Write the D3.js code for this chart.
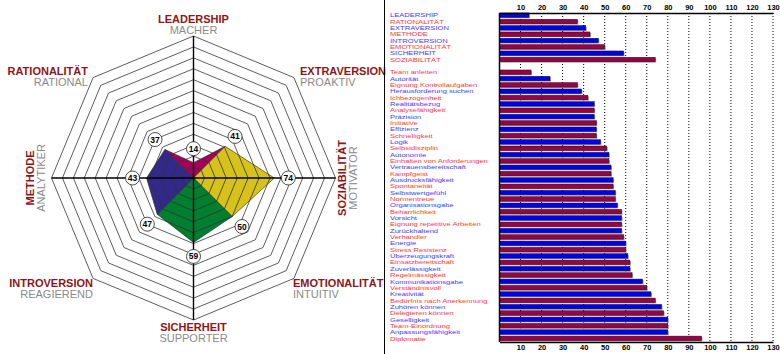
<!DOCTYPE html>
<html>
<head>
<meta charset="utf-8">
<script src="https://cdn.jsdelivr.net/npm/d3@7"></script>
<style>
  body { margin: 0; background: #fff; }
  svg { display: block; font-family: Arial, "Liberation Sans", sans-serif; }
</style>
</head>
<body>
<div id="chart"></div>
<script>
// Radar: Achsen im Uhrzeigersinn ab oben
const axisNames = ['LEADERSHIP', 'EXTRAVERSION', 'SOZIABILITÄT', 'EMOTIONALITÄT', 'SICHERHEIT', 'INTROVERSION', 'METHODE', 'RATIONALITÄT'];
const axisSubs = ['MACHER', 'PROAKTIV', 'MOTIVATOR', 'INTUITIV', 'SUPPORTER', 'REAGIEREND', 'ANALYTIKER', 'RATIONAL'];
const axisValues = [14, 41, 74, 50, 59, 47, 43, 37];
const sectorColors = ['#a6005a', '#d6c21b', '#007f30', '#32298a'];

// Balken: Hauptdimensionen
const mainLabels = ['LEADERSHIP', 'RATIONALITÄT', 'EXTRAVERSION', 'METHODE', 'INTROVERSION', 'EMOTIONALITÄT', 'SICHERHEIT', 'SOZIABILITÄT'];
const mainValues = [14, 37, 41, 43, 47, 50, 59, 74];

// Balken: Eigenschaften
const traitLabels = ['Team anleiten', 'Autorität', 'Eignung Kontrollaufgaben', 'Herausforderung suchen', 'Ichbezogenheit',
  'Realitätsbezug', 'Analysefähigkeit', 'Präzision', 'Initiative', 'Effizienz', 'Schnelligkeit', 'Logik',
  'Selbstdisziplin', 'Autonomie', 'Einhalten von Anforderungen', 'Vertrauensbereitschaft', 'Kampfgeist',
  'Ausdrucksfähigkeit', 'Spontaneität', 'Selbstwertgefühl', 'Normentreue', 'Organisationsgabe', 'Beharrlichkeit',
  'Vorsicht', 'Eignung repetitive Arbeiten', 'Zurückhaltend', 'Verhandler', 'Energie', 'Stress Resistenz',
  'Überzeugungskraft', 'Einsatzbereitschaft', 'Zuverlässigkeit', 'Regelmässigkeit', 'Kommunikationsgabe',
  'Verständnisvoll', 'Kreativität', 'Bedürfnis nach Anerkennung', 'Zuhören können', 'Delegieren können',
  'Geselligkeit', 'Team-Einordnung', 'Anpassungsfähigkeit', 'Diplomatie'];
const traitValues = [15, 24, 37, 39, 42, 45, 45, 45, 46, 46, 46, 48, 51, 52, 52, 53, 53, 54, 54, 55, 55, 56, 58,
  58, 58, 58, 59, 60, 60, 61, 62, 62, 63, 68, 70, 72, 74, 77, 78, 80, 80, 80, 96];

const xTicks = [10, 20, 30, 40, 50, 60, 70, 80, 90, 100, 110, 120, 130];

const width = 780, height = 354;
const svg = d3.select('#chart').append('svg')
  .attr('width', width)
  .attr('height', height);

// ---------- Radar ----------
const cx = 193.5, cy = 178, rMax = 142, ringMax = 130;
const r = d3.scaleLinear().domain([0, ringMax]).range([0, rMax]);
const angle = i => i * Math.PI / 4;
const pt = (i, v) => [cx + r(v) * Math.sin(angle(i)), cy - r(v) * Math.cos(angle(i))];

const radar = svg.append('g');

// Sektoren (jeweils drei Achsen + Mittelpunkt)
const sectors = [[7, 0, 1], [1, 2, 3], [3, 4, 5], [5, 6, 7]];
sectors.forEach((s, k) => {
  const pts = [[cx, cy]].concat(s.map(i => pt(i, axisValues[i])));
  radar.append('polygon')
    .attr('points', pts.map(p => p.join(',')).join(' '))
    .attr('fill', sectorColors[k])
    .attr('stroke', '#222')
    .attr('stroke-width', 0.6);
});

// Ringe
const rings = d3.range(10, ringMax + 1, 10);
radar.selectAll('.ring').data(rings).enter().append('polygon')
  .attr('points', v => d3.range(8).map(i => pt(i, v).join(',')).join(' '))
  .attr('fill', 'none')
  .attr('stroke', '#333')
  .attr('stroke-width', 0.8);

// Achsen
[0, 2].forEach(i => {
  const a = pt(i, ringMax), b = pt(i + 4, ringMax);
  radar.append('line')
    .attr('x1', a[0]).attr('y1', a[1]).attr('x2', b[0]).attr('y2', b[1])
    .attr('stroke', '#000').attr('stroke-width', 1.4);
});

// Wertmarken
axisValues.forEach((v, i) => {
  const d = r(v) + 14;
  const x = cx + d * Math.sin(angle(i)), y = cy - d * Math.cos(angle(i));
  radar.append('circle').attr('cx', x).attr('cy', y).attr('r', 7)
    .attr('fill', '#fff').attr('stroke', '#222').attr('stroke-width', 0.8);
  radar.append('text').attr('x', x).attr('y', y + 3)
    .attr('text-anchor', 'middle')
    .style('font-size', '8.5px').style('font-weight', 'bold')
    .text(v);
});

// Achsentitel
const titlePos = [
  { x: 193.5, y: 23, anchor: 'middle' },
  { x: 300, y: 75, anchor: 'start' },
  { x: 346, y: 178, anchor: 'middle', rot: true },
  { x: 293, y: 287, anchor: 'start' },
  { x: 193.5, y: 331, anchor: 'middle' },
  { x: 93, y: 287, anchor: 'end' },
  { x: 34, y: 178, anchor: 'middle', rot: true },
  { x: 88, y: 75, anchor: 'end' }
];
titlePos.forEach((p, i) => {
  const g = radar.append('g')
    .attr('transform', p.rot ? `translate(${p.x},${p.y}) rotate(-90)` : `translate(${p.x},${p.y})`);
  g.append('text')
    .attr('text-anchor', p.anchor)
    .style('font-size', '11px').style('font-weight', 'bold')
    .attr('fill', '#8e1518')
    .text(axisNames[i]);
  g.append('text')
    .attr('y', 11)
    .attr('text-anchor', p.anchor)
    .style('font-size', '11px')
    .attr('fill', '#8a8a8a')
    .text(axisSubs[i]);
});

// Trennlinie
svg.append('line')
  .attr('x1', 384.5).attr('y1', 0).attr('x2', 384.5).attr('y2', height)
  .attr('stroke', '#000').attr('stroke-width', 1);

// ---------- Balken ----------
const rows = mainLabels.map((l, i) => ({ key: 'm' + i, label: l, value: mainValues[i] }))
  .concat([{ key: 'gap', label: '', value: null }])
  .concat(traitLabels.map((l, i) => ({ key: 't' + i, label: l, value: traitValues[i] })));

const x = d3.scaleLinear().domain([0, 130]).range([499.5, 773]);
const y = d3.scaleBand().domain(rows.map(d => d.key)).range([12, 341.5]).paddingInner(0.3).paddingOuter(0.15);

const blue = '#0000f0', maroon = '#9a0048';
const blueText = '#4040ff', redText = '#ff3838';

const bars = svg.append('g');

// Gitterlinien
bars.selectAll('.grid').data(xTicks).enter().append('line')
  .attr('x1', d => x(d)).attr('x2', d => x(d))
  .attr('y1', 13).attr('y2', 342)
  .attr('stroke', '#000').attr('stroke-width', 1)
  .attr('stroke-dasharray', '1,2');

const data = rows.map((d, i) => Object.assign({ idx: i }, d)).filter(d => d.value !== null);

// Schatten
bars.selectAll('.shadow').data(data).enter().append('rect')
  .attr('x', x(0) + 1)
  .attr('y', d => y(d.key) + 1)
  .attr('width', d => x(d.value) - x(0))
  .attr('height', y.bandwidth())
  .attr('fill', '#a9a9a0');

bars.selectAll('.bar').data(data).enter().append('rect')
  .attr('x', x(0))
  .attr('y', d => y(d.key))
  .attr('width', d => x(d.value) - x(0))
  .attr('height', y.bandwidth())
  .attr('fill', d => d.idx % 2 === 0 ? blue : maroon)
  .attr('stroke', '#111')
  .attr('stroke-width', 0.5);

// Beschriftungen (vertikal gestaucht wie im Original)
const rowStep = y.step();
bars.selectAll('.lbl').data(data).enter().append('text')
  .attr('transform', d => `translate(390,${y(d.key) + y.bandwidth() / 2 + 2.2}) scale(1,0.74)`)
  .style('font-size', '7.6px')
  .attr('fill', d => d.idx % 2 === 0 ? blueText : redText)
  .text(d => d.label);

// Achsen oben und unten
const topAxis = bars.append('g')
  .attr('transform', 'translate(0,13)')
  .call(d3.axisTop(x).tickValues(xTicks).tickSize(0).tickPadding(3));
const bottomAxis = bars.append('g')
  .attr('transform', 'translate(0,342)')
  .call(d3.axisBottom(x).tickValues(xTicks).tickSize(0).tickPadding(3));
[topAxis, bottomAxis].forEach(a => {
  a.select('.domain').attr('stroke', '#000').attr('stroke-width', 1.5);
  a.selectAll('text').style('font-size', '7.5px').style('font-weight', 'bold')
    .style('font-family', 'Arial, "Liberation Sans", sans-serif');
});

// linke Achse
bars.append('line')
  .attr('x1', x(0)).attr('x2', x(0)).attr('y1', 13).attr('y2', 342)
  .attr('stroke', '#000').attr('stroke-width', 1.5);
</script>
</body>
</html>
